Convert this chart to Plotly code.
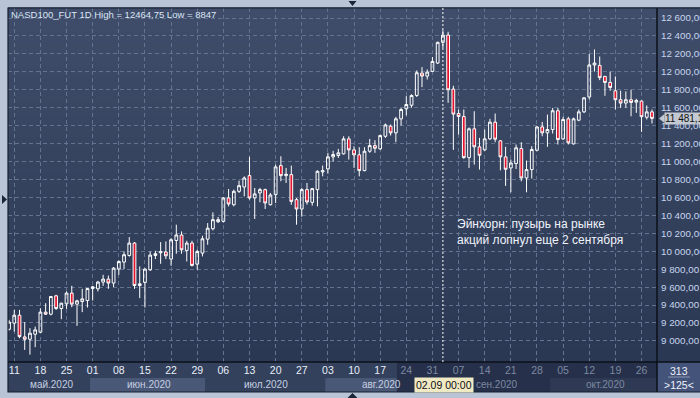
import pandas as pd
import plotly.graph_objects as go

# ---------------- data ----------------
dates = [d.strftime("%Y-%m-%d") for d in pd.bdate_range("2020-05-08", "2020-10-28")]

open_ = [9130, 9198, 9287, 9045, 9019, 9075, 9097, 9321, 9298, 9503, 9361, 9413, 9533, 9410, 9439, 9450,
         9584, 9581, 9656, 9689, 9645, 9801, 9879, 9953, 10091, 9618, 9652, 9793, 9953, 9983, 9991, 9913,
         10120, 10181, 10009, 10091, 9856, 9979, 10135, 10251, 10329, 10333, 10594, 10519, 10668, 10716,
         10843, 10594, 10650, 10687, 10519, 10631, 10955, 10843, 10854, 10575, 10471, 10687, 10545, 10687,
         10884, 10918, 11052, 11067, 11086, 11253, 11130, 11075, 10899, 11115, 11178, 11141, 11282, 11394,
         11320, 11476, 11588, 11628, 11737, 11986, 11953, 12005, 12098, 12329, 12410, 11808, 11536, 11503,
         11044, 11365, 11164, 11130, 11253, 11439, 11231, 11052, 10929, 10978, 11145, 10817, 10910, 11126,
         11386, 11320, 11357, 11566, 11253, 11476, 11197, 11461, 11554, 11720, 12077, 12072, 11949, 11882,
         11789, 11689, 11652, 11689, 11663, 11674, 11494, 11554]
high = [9235, 9346, 9346, 9209, 9142, 9160, 9365, 9421, 9500, 9514, 9425, 9551, 9614, 9460, 9581, 9590,
        9614, 9670, 9737, 9729, 9823, 9897, 9997, 10158, 10102, 9830, 9810, 9997, 10005, 10102, 10109, 10147,
        10296, 10221, 10117, 10117, 10016, 10173, 10314, 10433, 10382, 10605, 10694, 10687, 10787, 10835,
        11052, 10706, 10706, 10698, 10650, 10966, 11059, 10929, 10955, 10594, 10706, 10761, 10706, 10902,
        10955, 11097, 11120, 11141, 11282, 11282, 11170, 11160, 11160, 11253, 11238, 11300, 11424, 11413,
        11498, 11598, 11729, 11750, 12016, 12053, 12027, 12165, 12336, 12464.75, 12447, 11845, 11580, 11580,
        11380, 11561, 11264, 11357, 11476, 11535, 11240, 11164, 11022, 11190, 11215, 11011, 11171, 11394,
        11442, 11524, 11598, 11598, 11499, 11499, 11490, 11580, 11720, 12200, 12250, 12171, 11956, 12003,
        11949, 11789, 11782, 11800, 11700, 11681, 11625, 11580]
low = [9115, 9104, 9030, 8900, 8847, 8930, 9090, 9290, 9285, 9346, 9242, 9357, 9376, 9168, 9321, 9372,
       9450, 9551, 9614, 9581, 9600, 9737, 9801, 9940, 9581, 9477, 9372, 9780, 9913, 9860, 9913, 9838,
       9972, 9972, 9886, 9830, 9793, 9942, 10072, 10232, 10315, 10320, 10500, 10500, 10650, 10612,
       10575, 10359, 10545, 10471, 10510, 10538, 10780, 10761, 10519, 10296, 10385, 10519, 10508, 10500,
       10835, 10865, 11000, 11041, 11078, 11022, 10929, 10835, 10891, 11097, 11097, 11130, 11264, 11290,
       11215, 11401, 11514, 11600, 11720, 11830, 11915, 11997, 12087, 12265, 11654, 11130, 11301, 11030,
       10929, 10966, 10910, 11120, 11240, 11215, 10902, 10728, 10657, 10917, 10780, 10657, 10810, 11115,
       11282, 11164, 11312, 11190, 11240, 11190, 11190, 11450, 11540, 11692, 12003, 11908, 11733, 11789,
       11580, 11598, 11598, 11505, 11543, 11331, 11469, 11424]
close = [9210, 9287, 9048, 9019, 9086, 9123, 9321, 9298, 9495, 9361, 9421, 9533, 9410, 9447, 9469, 9584,
         9603, 9656, 9689, 9645, 9812, 9886, 9961, 10091, 9618, 9637, 9801, 9957, 9972, 9994, 9949, 10128,
         10181, 10016, 10091, 9842, 9997, 10139, 10257, 10352, 10352, 10594, 10527, 10668, 10731, 10817,
         10594, 10639, 10687, 10538, 10627, 10940, 10843, 10858, 10556, 10471, 10687, 10549, 10698, 10891,
         10899, 11052, 11078, 11097, 11253, 11130, 11075, 10899, 11115, 11178, 11148, 11290, 11408, 11320,
         11476, 11580, 11636, 11736, 11990, 11953, 11997, 12116, 12329, 12410, 11800, 11529, 11503, 11044,
         11365, 11164, 11070, 11253, 11439, 11249, 11052, 10914, 10984, 11153, 10817, 10910, 11134, 11386,
         11320, 11357, 11566, 11245, 11469, 11208, 11476, 11554, 11710, 12077, 12098, 11935, 11882, 11826,
         11689, 11652, 11689, 11659, 11681, 11500, 11554, 11481.1]

y_ticks = [9000, 9200, 9400, 9600, 9800, 10000, 10200, 10400, 10600, 10800, 11000, 11200, 11400,
           11600, 11800, 12000, 12200, 12400, 12600]
y_ticktext = ["9 000,00", "9 200,00", "9 400,00", "9 600,00", "9 800,00", "10 000,00", "10 200,00",
              "10 400,00", "10 600,00", "10 800,00", "11 000,00", "11 200,00", "11 400,00", "11 600,00",
              "11 800,00", "12 000,00", "12 200,00", "12 400,00", "12 600,00"]
months = ["май.2020", "июн.2020", "июл.2020", "авг.2020", "сен.2020", "окт.2020"]
month_pos = [8.2, 26.8, 49.2, 71.2, 93.4, 114.2]
title_text = "NASD100_FUT 1D High = 12464,75 Low = 8847"
note_text = "Эйнхорн: пузырь на рынке<br>акций лопнул еще 2 сентября"
event_date = "2020-09-02"
last_price = 11481.1
last_price_text = "11 481,1"

assert len(dates) == len(open_) == len(high) == len(low) == len(close)

# ---------------- styling helpers ----------------
FONT = "Liberation Sans"
W, H = 700, 398
L, R, T, B = 8, 43, 8, 36
pw, ph = W - L - R, H - T - B
xr = 1 + R / pw          # right edge of paper in paper units
yb = -(30) / ph          # bottom of axis band
ymid = -(16) / ph        # split between day row and month row

mondays = [d for d in dates if pd.Timestamp(d).weekday() == 0]
bright_until = pd.Timestamp("2020-08-17")
x_ticktext = []
for d in mondays:
    ts = pd.Timestamp(d)
    col = "#e8eef8" if ts <= bright_until else "#7d89a2"
    x_ticktext.append(f'<span style="color:{col}">{ts.strftime("%d")}</span>')

fig = go.Figure()
fig.add_trace(go.Candlestick(
    x=dates, open=open_, high=high, low=low, close=close,
    increasing=dict(line=dict(color="#ffffff", width=1), fillcolor="rgba(0,0,0,0)"),
    decreasing=dict(line=dict(color="#ffffff", width=1), fillcolor="#e3162f"),
    whiskerwidth=0, hoverinfo="skip", showlegend=False,
))

shapes = []
# background gradient of the panel (plot + right axis column)
n = 30
c_bot = (0x2b, 0x38, 0x53)
c_top = (0x3f, 0x4d, 0x6a)
for i in range(n):
    t = (i + 0.5) / n
    c = tuple(int(round(c_bot[k] + (c_top[k] - c_bot[k]) * t)) for k in range(3))
    shapes.append(dict(type="rect", xref="paper", yref="paper", x0=0, x1=xr + 0.01,
                       y0=i / n, y1=(i + 1) / n + 0.002, fillcolor="rgb(%d,%d,%d)" % c,
                       line=dict(width=0), layer="below"))
# bottom axis band
shapes.append(dict(type="rect", xref="paper", yref="paper", x0=0, x1=1, y0=yb, y1=0,
                   fillcolor="#33415c", line=dict(width=0), layer="below"))
# lighter month bands (June, August)
cat = {d: i for i, d in enumerate(dates)}
for a, b in [(cat["2020-06-01"] - 0.5, cat["2020-07-01"] - 0.5),
             (cat["2020-08-03"] - 0.5, cat["2020-08-20"] + 0.2)]:
    shapes.append(dict(type="rect", xref="x", yref="paper", x0=a, x1=b, y0=yb, y1=ymid,
                       fillcolor="#4a5877", line=dict(width=0), layer="below"))
# darker (inactive) part of the time band
shapes.append(dict(type="rect", xref="x", yref="paper", x0=cat["2020-08-20"] + 0.2, x1=len(dates) + 2,
                   y0=yb, y1=0, fillcolor="#26304a", line=dict(width=0), layer="below"))
shapes.append(dict(type="rect", xref="x", yref="paper", x0=cat["2020-10-01"] - 0.5, x1=len(dates) + 2,
                   y0=yb, y1=ymid, fillcolor="#2e3953", line=dict(width=0), layer="below"))
# bottom-right corner box
shapes.append(dict(type="rect", xref="paper", yref="paper", x0=1, x1=xr + 0.01, y0=yb, y1=0,
                   fillcolor="#44537a", line=dict(width=0), layer="below"))
shapes.append(dict(type="line", xref="paper", yref="paper", x0=1 + 11 / pw, x1=1 + 33 / pw,
                   y0=-15 / ph, y1=-15 / ph, line=dict(color="#8a97b3", width=1)))
# separators / frame
shapes.append(dict(type="line", xref="paper", yref="paper", x0=1, x1=1, y0=yb, y1=1,
                   line=dict(color="#0b0f18", width=1.5)))
shapes.append(dict(type="line", xref="paper", yref="paper", x0=0, x1=xr + 0.01, y0=0, y1=0,
                   line=dict(color="#0b0f18", width=1.5)))
shapes.append(dict(type="rect", xref="paper", yref="paper", x0=0, x1=xr + 0.01, y0=yb, y1=1,
                   line=dict(color="#161e2c", width=1.2), fillcolor="rgba(0,0,0,0)"))
# event vertical line
shapes.append(dict(type="line", xref="x", yref="paper", x0=cat[event_date], x1=cat[event_date],
                   y0=0, y1=1, line=dict(color="#ffffff", width=1, dash="2px,2px")))
# price tag arrow on the right axis
pt_h = 50
shapes.append(dict(type="path", xref="paper", yref="y",
                   path=f"M {1 + 2 / pw},{last_price} L {1 + 7.5 / pw},{last_price + pt_h} "
                        f"L {1 + 7.5 / pw},{last_price - pt_h} Z",
                   fillcolor="#c3c9d2", line=dict(width=0)))
# small frame arrows
def tri(points):
    p = " L ".join(f"{x},{y}" for x, y in points)
    return dict(type="path", xref="paper", yref="paper", path=f"M {p} Z",
                fillcolor="#1c2535", line=dict(width=0))
px = lambda v: (v - L) / pw
py = lambda v: (H - B - v) / ph
shapes.append(tri([(px(2), py(195)), (px(2), py(204)), (px(7), py(199.5))]))
shapes.append(tri([(px(348.5), py(1)), (px(356.5), py(1)), (px(352.5), py(6))]))
shapes.append(tri([(px(347.5), py(398)), (px(357.5), py(398)), (px(352.5), py(393))]))

annotations = [
    dict(xref="paper", yref="paper", x=px(9), y=py(15), xanchor="left", yanchor="middle",
         text=title_text, showarrow=False, font=dict(family=FONT, size=9.5, color="#dce6f5")),
    dict(xref="x", yref="y", x=cat[event_date] + 2.4, y=10210, xanchor="left", yanchor="middle",
         align="left", text=note_text, showarrow=False,
         font=dict(family=FONT, size=12, color="#eef2fa")),
    dict(xref="x", yref="paper", x=cat[event_date] + 0.2, y=py(384.5), xanchor="center", yanchor="middle",
         text="02.09 00:00", showarrow=False, bgcolor="#efe9c4", borderpad=1,
         font=dict(family=FONT, size=10.5, color="#101010")),
    dict(xref="paper", yref="y", x=1 + 7 / pw, y=last_price, xanchor="left", yanchor="middle",
         text=last_price_text + "    ", showarrow=False, bgcolor="#c3c9d2", borderpad=0,
         font=dict(family=FONT, size=10, color="#101010")),
    dict(xref="paper", yref="paper", x=px(679), y=py(371), xanchor="center", yanchor="middle",
         text="313", showarrow=False, font=dict(family=FONT, size=10.5, color="#eef2fa")),
    dict(xref="paper", yref="paper", x=px(679), y=py(385), xanchor="center", yanchor="middle",
         text="&gt;125&lt;", showarrow=False, font=dict(family=FONT, size=10.5, color="#eef2fa")),
]
for i, (m, pos) in enumerate(zip(months, month_pos)):
    col = "#c6d0e2" if i < 4 else "#7d89a2"
    annotations.append(dict(xref="x", yref="paper", x=pos, y=py(384), xanchor="center",
                            yanchor="middle", text=m, showarrow=False,
                            font=dict(family=FONT, size=10, color=col)))

fig.update_layout(
    width=W, height=H, margin=dict(l=L, r=R, t=T, b=B, pad=0, autoexpand=False),
    paper_bgcolor="#b9c5d6", plot_bgcolor="rgba(0,0,0,0)",
    font=dict(family=FONT, size=10.5, color="#e8eef8"),
    boxgap=0.25, shapes=shapes, annotations=annotations, showlegend=False,
    xaxis=dict(type="category", range=[-0.2, len(dates) - 0.04], rangeslider=dict(visible=False),
               tickmode="array", tickvals=mondays, ticktext=x_ticktext, ticks="",
               showgrid=True, gridcolor="#62728f", griddash="4px,3px", gridwidth=1,
               tickfont=dict(family=FONT, size=10.5, color="#e8eef8"), zeroline=False,
               showline=False, fixedrange=True, tickangle=0, automargin=False),
    yaxis=dict(side="right", range=[8765, 12712], tickmode="array", tickvals=y_ticks,
               ticktext=y_ticktext, ticks="", showgrid=True, gridcolor="#62728f",
               griddash="4px,3px", gridwidth=1, zeroline=False, showline=False,
               tickfont=dict(family=FONT, size=9.8, color="#c7d5ee"), fixedrange=True,
               automargin=False, ticklabelstandoff=3),
)

fig.write_html(
    "out.html",
    config={"displayModeBar": False},
    post_script="document.body.style.margin='0';document.body.style.background='#b9c5d6';"
                "document.body.style.overflow='hidden';",
)
